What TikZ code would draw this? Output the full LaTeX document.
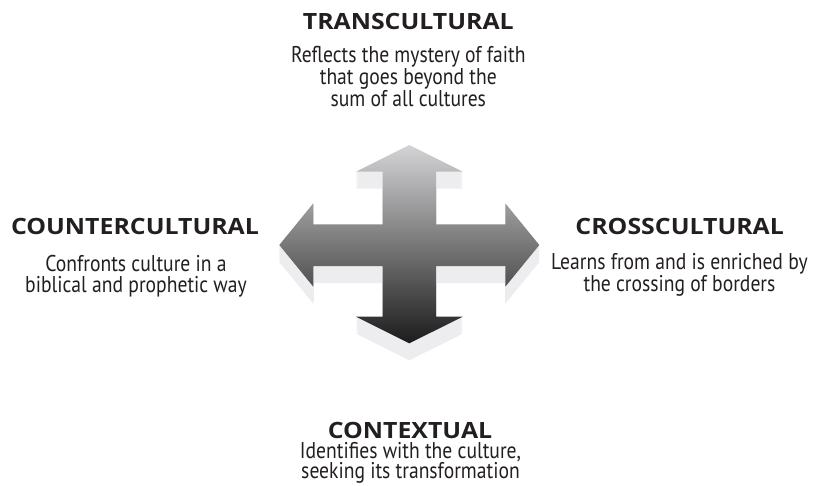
\documentclass[tikz,border=0pt]{standalone}
\usepackage{fontspec}
\setmainfont{PT Sans}[FakeStretch=0.86]
\newfontfamily\headfont{Open Sans}[BoldFont={Open Sans Bold}, FakeStretch=1.11]
\definecolor{txt}{HTML}{231F20}
\definecolor{extr}{HTML}{EDEDEF}
\definecolor{ctop}{HTML}{D4D4D6}
\definecolor{cmid}{HTML}{98989C}
\definecolor{cbot}{HTML}{1C1C1C}
\tikzset{
  head/.style={text=txt, anchor=base, text depth=0pt, font=\headfont\bfseries\fontsize{22.4}{25}\selectfont, inner sep=0pt},
  body/.style={text=txt, anchor=base, align=center, font=\fontsize{22.8}{20.6}\selectfont, inner sep=0pt}
}
\def\crosspath{(409.3,145) -- (462.7,171.7) -- (436,171.7) -- (436,224.3) -- (505.3,224.3) -- (505.3,203.3) -- (539.3,245) -- (505.3,286.7) -- (505.3,266) -- (436,266) -- (436,316.7) -- (462.7,316.7) -- (409.3,343.3) -- (356,316.7) -- (382.6,316.7) -- (382.6,266) -- (313.3,266) -- (313.3,286.7) -- (279.3,245) -- (313.3,203.3) -- (313.3,224.3) -- (382.6,224.3) -- (382.6,171.7) -- (356,171.7) -- cycle}
\begin{document}
\begin{tikzpicture}[x=1pt,y=-1pt]
\fill[white] (0,0) rectangle (822,485);
\useasboundingbox (0,0) rectangle (822,485);
\foreach \d in {1,...,17}{\fill[extr, yshift=-\d pt] \crosspath;}
\shade[top color=ctop, middle color=cmid, bottom color=cbot] \crosspath;
\node[head] (tt) at (408.3,29.3) {TRANSCULTURAL};
\node[body] (tb) at (408.3,106) {Reflects the mystery of faith\\that goes beyond the\\sum of all cultures};
\node[head] (lt) at (135,234.3) {COUNTERCULTURAL};
\node[body] (lb) at (136,292.3) {Confronts culture in a\\biblical and prophetic way};
\node[head] (rt) at (679.7,234.3) {CROSSCULTURAL};
\node[body] (rb) at (679.5,291.5) {Learns from and is enriched by\\the crossing of borders};
\node[head] (bt) at (410,438) {CONTEXTUAL};
\node[body] (bb) at (410.5,478.6) {Identifies with the culture,\\seeking its transformation};
\end{tikzpicture}
\end{document}
